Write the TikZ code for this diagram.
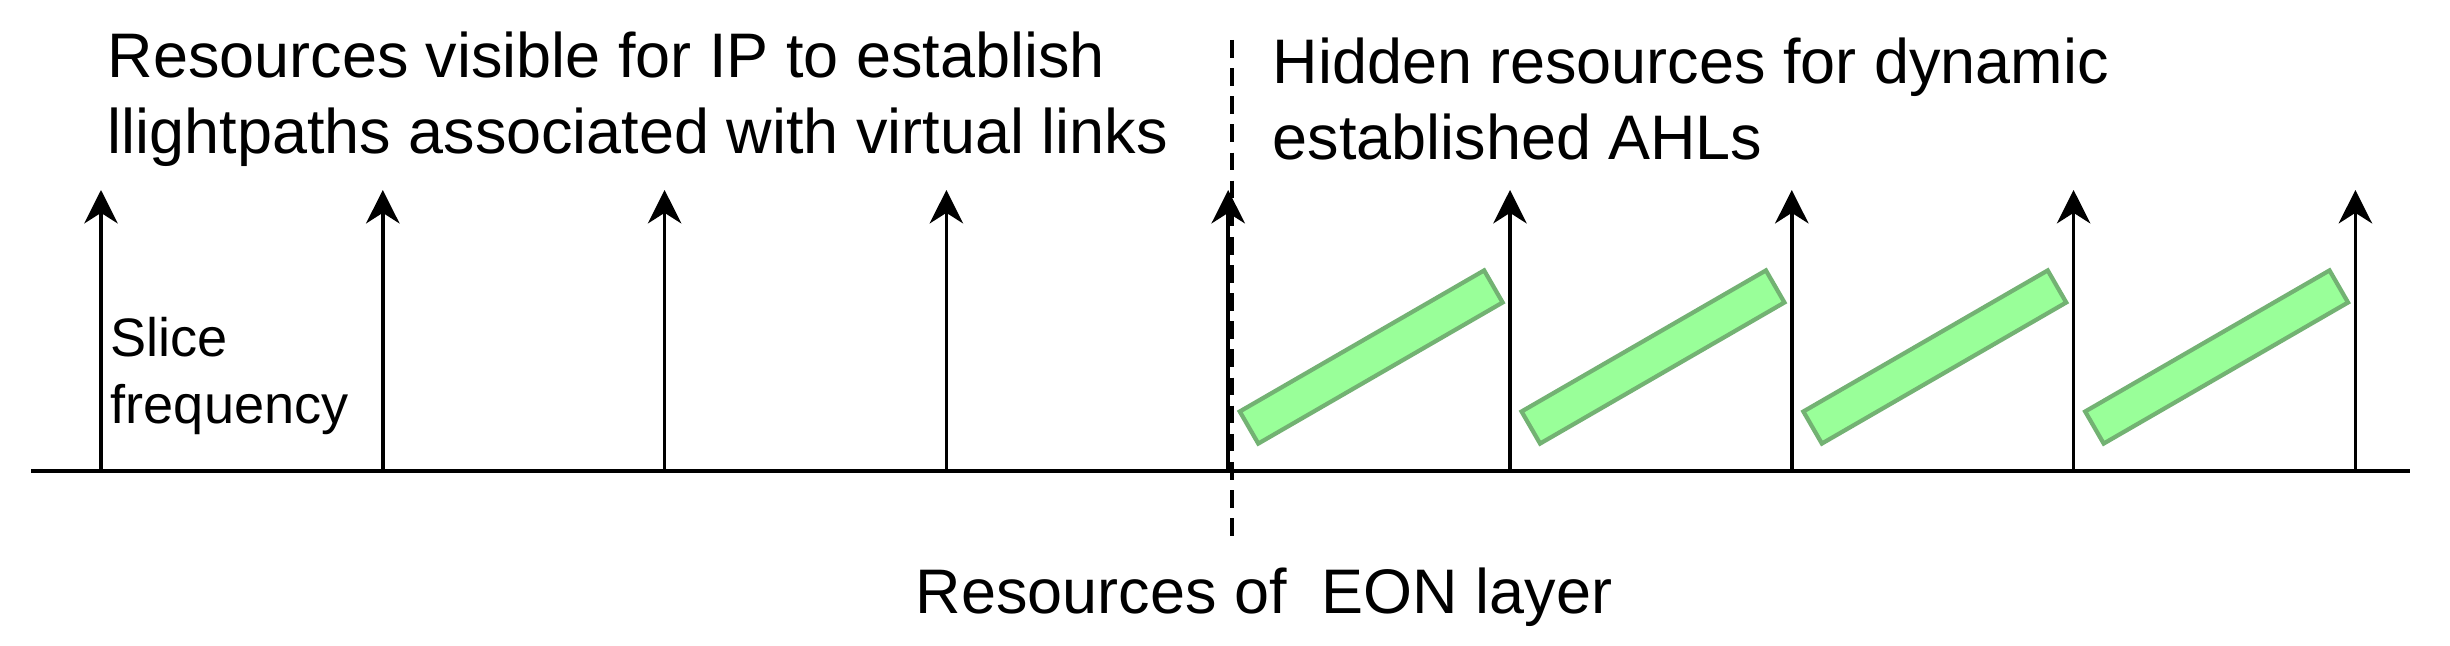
\documentclass[tikz,border=0pt]{standalone}
\usepackage{fontspec}
\setmainfont{Liberation Sans}
\usetikzlibrary{arrows.meta}
\begin{document}
\begin{tikzpicture}[x=0.01cm,y=-0.01cm]
    \tikzstyle{slot}=[line width=1pt,-{Stealth[length=9.5pt,width=9.5pt,inset=3pt]}]
    \tikzstyle{ahl}=[draw=green!45!black!55,fill=green!40,line width=1.2pt,minimum width=2.82cm,minimum height=0.37cm,inner sep=0pt,rotate=30]
    \tikzstyle{lbl}=[font=\fontsize{17.9}{21.5}\selectfont,align=left,anchor=west,inner sep=0pt]

    \useasboundingbox (0,0) rectangle (2450,646);

    \coordinate (b0) at (31,471);
    \coordinate (b1) at (2410,471);
    \draw [line width=1pt] (b0) -- (b1);

    % slice frequencies
    \foreach \i in {0,...,8} {
        \coordinate (s\i) at (101+\i*281.8,471);
        \coordinate (t\i) at (101+\i*281.8,190);
        \draw [slot] (s\i) -- (t\i);
    }
    \foreach \i in {4,...,7} {
        \node (a\i) [ahl] at (101+\i*281.8+143,357) {};
    }

    \coordinate (d0) at (1232,40);
    \coordinate (d1) at (1232,536);
    \draw [line width=1pt,dash pattern=on 5pt off 3pt] (d0) -- (d1);

    \node (vis) [lbl] at (107,99) {Resources visible for IP to establish\\llightpaths associated with virtual links};
    \node (hid) [lbl] at (1272,99) {Hidden resources for dynamic\\established AHLs};
    \node (eon) [lbl,anchor=center] at (1264,597) {Resources of\ \ EON layer};
    \node (sf) [lbl,font=\fontsize{15.4}{19}\selectfont] at (110,376) {Slice\\frequency};
\end{tikzpicture}
\end{document}
